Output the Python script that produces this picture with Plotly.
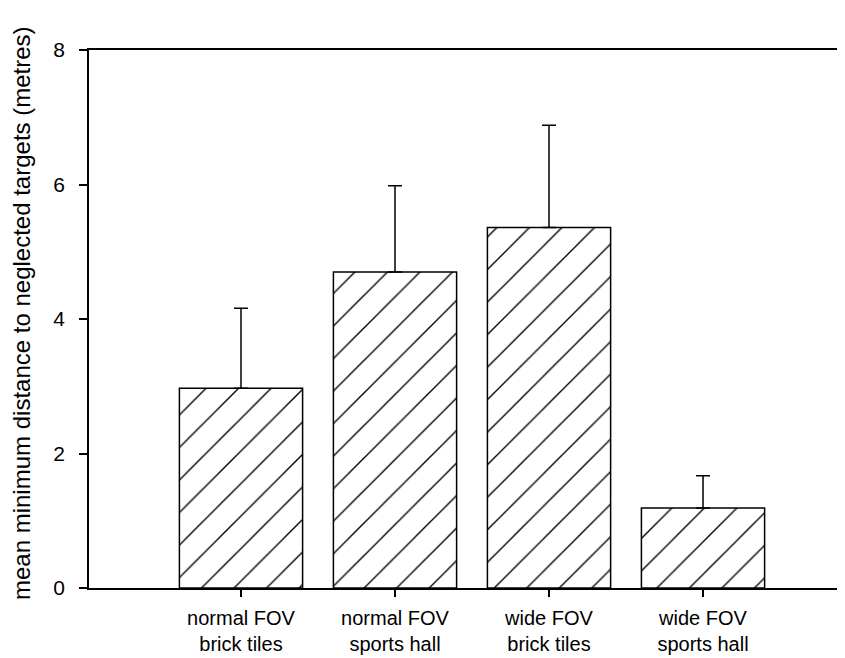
import plotly.graph_objects as go

categories = ["normal FOV<br>brick tiles", "normal FOV<br>sports hall",
              "wide FOV<br>brick tiles", "wide FOV<br>sports hall"]
means = [2.97, 4.70, 5.36, 1.19]
errors_up = [1.19, 1.28, 1.52, 0.48]
y_ticks = [0, 2, 4, 6, 8]
y_title = "mean minimum distance to neglected targets (metres)"

FONT = "Liberation Sans, Arial, sans-serif"

fig = go.Figure()
fig.add_trace(go.Bar(
    x=categories,
    y=means,
    width=0.8,
    marker=dict(
        color="white",
        line=dict(color="black", width=1.5),
        pattern=dict(shape="/", size=23, solidity=0.06, fgcolor="black",
                     fgopacity=1, bgcolor="white"),
    ),
    error_y=dict(type="data", symmetric=False, array=errors_up,
                 arrayminus=[0] * len(errors_up),
                 color="black", thickness=1.5, width=7),
    showlegend=False,
))

fig.update_layout(
    width=837, height=650,
    margin=dict(l=81, r=0, t=42, b=70, autoexpand=False),
    paper_bgcolor="white", plot_bgcolor="white",
    font=dict(family=FONT, color="black", size=20),
    bargap=0.2,
)
fig.update_xaxes(
    type="category",
    range=[-0.987, 3.922],
    automargin=False,
    showline=True, linecolor="black", linewidth=1.5, mirror=True,
    ticks="outside", ticklen=7, tickwidth=1.5, tickcolor="black",
    tickfont=dict(size=20, family=FONT, color="black"),
    ticklabelstandoff=4,
    showgrid=False, zeroline=False,
)
fig.update_yaxes(
    range=[0, 8],
    tickvals=y_ticks,
    automargin=False,
    showline=True, linecolor="black", linewidth=1.5,
    ticks="outside", ticklen=8, tickwidth=1.5, tickcolor="black",
    tickfont=dict(size=21, family=FONT, color="black"),
    ticklabelstandoff=10,
    showgrid=False, zeroline=False,
)
fig.add_annotation(
    text=y_title, textangle=-90,
    xref="paper", yref="paper", x=0, y=0.5,
    xanchor="center", yanchor="middle",
    xshift=-68, yshift=6, showarrow=False,
    font=dict(size=24, family=FONT, color="black"),
)

fig.write_html("out.html")
